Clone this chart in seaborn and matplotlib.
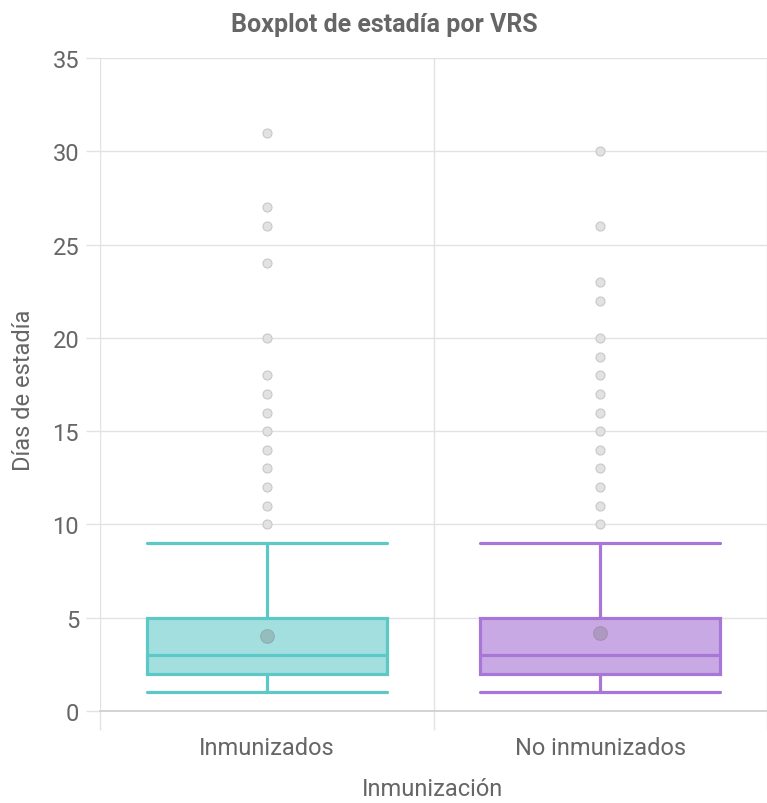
import matplotlib
matplotlib.use("Agg")
import matplotlib.pyplot as plt
import seaborn as sns
import pandas as pd
import numpy as np

# ---- data ----
categories = ["Inmunizados", "No inmunizados"]
whisker_low = [1, 1]
q1 = [2, 2]
median = [3, 3]
q3 = [5, 5]
whisker_high = [9, 9]
means = [4.0, 4.18]
outliers_inmunizados = [10, 11, 12, 13, 14, 15, 16, 17, 18, 20, 24, 26, 27, 31]
outliers_no_inmunizados = [10, 11, 12, 13, 14, 15, 16, 17, 18, 19, 20, 22, 23, 26, 30]
y_ticks = [0, 5, 10, 15, 20, 25, 30, 35]

edge_colors = ["#5cc9c6", "#a876d6"]
fill_colors = ["#a3dfdf", "#c9a9e4"]

sns.set_theme(style="white")
plt.rcParams["font.family"] = ["Roboto", "DejaVu Sans"]

fig = plt.figure(figsize=(7.67, 8.04), dpi=100)
ax = fig.add_axes([0.1304, 0.1144, 0.8696, 0.8122])

stats = []
for i, c in enumerate(categories):
    stats.append(dict(label=c, whislo=whisker_low[i], q1=q1[i], med=median[i],
                      q3=q3[i], whishi=whisker_high[i], fliers=[]))

for i in range(len(categories)):
    ax.bxp([stats[i]], positions=[i], widths=0.72, patch_artist=True,
           showfliers=False, showcaps=True, capwidths=0.72,
           boxprops=dict(facecolor=fill_colors[i], edgecolor=edge_colors[i], linewidth=2.3),
           medianprops=dict(color=edge_colors[i], linewidth=2.3),
           whiskerprops=dict(color=edge_colors[i], linewidth=2.3),
           capprops=dict(color=edge_colors[i], linewidth=2.3),
           manage_ticks=False, zorder=3)

out_df = pd.DataFrame({
    "cat": [categories[0]] * len(outliers_inmunizados) + [categories[1]] * len(outliers_no_inmunizados),
    "val": outliers_inmunizados + outliers_no_inmunizados,
})
sns.stripplot(data=out_df, x="cat", y="val", order=categories, jitter=False, ax=ax,
              color="#e2e2e2", edgecolor="#c8c8c8", linewidth=0.8, size=6.5, zorder=4)

mean_df = pd.DataFrame({"cat": categories, "val": means})
sns.stripplot(data=mean_df, x="cat", y="val", order=categories, jitter=False, ax=ax,
              color=(0.45, 0.45, 0.45, 0.3), edgecolor=(0.4, 0.4, 0.4, 0.25), linewidth=0.8,
              size=10, zorder=5)

ax.set_xlim(-0.5, 1.5)
ax.set_ylim(0, 35)
ax.set_yticks(y_ticks)
ax.set_yticklabels([str(t) for t in y_ticks])
ax.set_xticks([0, 1])
ax.set_xticklabels(categories)
ax.set_xticks([-0.5, 0.5, 1.5], minor=True)

ax.grid(True, axis="y", which="major", color="#e2e2e2", linewidth=1.0, zorder=0)
ax.grid(True, axis="x", which="minor", color="#e2e2e2", linewidth=1.0, zorder=0)
ax.grid(False, axis="x", which="major")
ax.set_axisbelow(True)

for s in ["top", "right", "left"]:
    ax.spines[s].set_visible(False)
ax.spines["bottom"].set_color("#d0d0d0")
ax.spines["bottom"].set_linewidth(1.3)

ax.tick_params(axis="y", which="major", length=10, width=1.0, color="#e2e2e2",
               labelsize=17, labelcolor="#666666", pad=5, left=True)
ax.tick_params(axis="x", which="major", length=0, labelsize=17, labelcolor="#666666", pad=18)
ax.tick_params(axis="x", which="minor", length=14, width=1.0, color="#e2e2e2", bottom=True)

ax.set_xlabel("Inmunización", fontsize=17, color="#666666", va="center")
ax.set_ylabel("Días de estadía", fontsize=17, color="#666666", va="center")
ax.xaxis.set_label_coords((432 - 100) / 667, (712 - 789) / 653)
ax.yaxis.set_label_coords((23 - 100) / 667, (712 - 390) / 653)
fig.text(384 / 767, 1 - 25 / 804, "Boxplot de estadía por VRS", fontsize=18,
         fontweight="bold", color="#666666", ha="center", va="center")

fig.savefig("out.png", dpi=100)
